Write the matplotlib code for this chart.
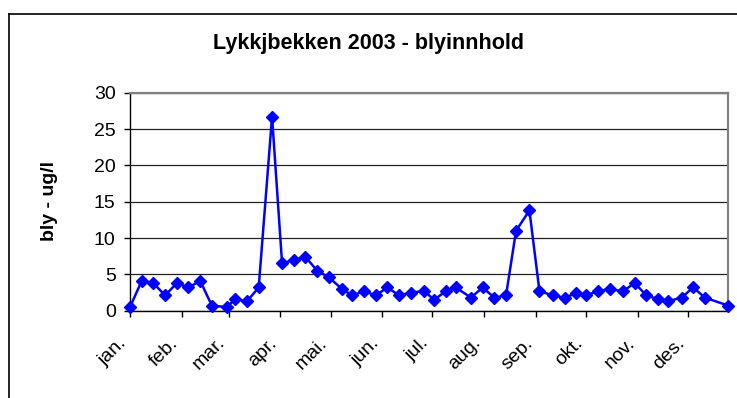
import matplotlib
matplotlib.use("Agg")
import matplotlib.pyplot as plt
import matplotlib.transforms as mtransforms
from matplotlib.lines import Line2D
import pandas as pd

plt.rcParams['font.family'] = ['Liberation Sans', 'DejaVu Sans']

# Weekly samples of lead content, 2003
dates = pd.to_datetime([
    "2003-01-01", "2003-01-08", "2003-01-15", "2003-01-22", "2003-01-29",
    "2003-02-05", "2003-02-12", "2003-02-19", "2003-02-28",
    "2003-03-05", "2003-03-12", "2003-03-19", "2003-03-27",
    "2003-04-02", "2003-04-09", "2003-04-16", "2003-04-23", "2003-04-30",
    "2003-05-08", "2003-05-14", "2003-05-21", "2003-05-28",
    "2003-06-04", "2003-06-11", "2003-06-18", "2003-06-26",
    "2003-07-02", "2003-07-09", "2003-07-15", "2003-07-24", "2003-07-31",
    "2003-08-07", "2003-08-14", "2003-08-20", "2003-08-28",
    "2003-09-03", "2003-09-11", "2003-09-18", "2003-09-25",
    "2003-10-01", "2003-10-08", "2003-10-15", "2003-10-23", "2003-10-30",
    "2003-11-06", "2003-11-13", "2003-11-19", "2003-11-27",
    "2003-12-04", "2003-12-11", "2003-12-25",
])
bly = [
    0.5, 4.1, 3.8, 2.1, 3.8,
    3.2, 4.1, 0.7, 0.5,
    1.6, 1.3, 3.2, 26.7,
    6.5, 7.0, 7.4, 5.5, 4.6,
    2.95, 2.1, 2.7, 2.1,
    3.2, 2.1, 2.5, 2.7,
    1.5, 2.7, 3.2, 1.8, 3.2,
    1.8, 2.1, 11.0, 13.8,
    2.7, 2.1, 1.8, 2.4,
    2.1, 2.7, 2.95, 2.7, 3.8,
    2.1, 1.6, 1.3, 1.8,
    3.2, 1.8, 0.7,
]
months = ["jan.", "feb.", "mar.", "apr.", "mai.", "jun.",
          "jul.", "aug.", "sep.", "okt.", "nov.", "des."]
month_starts = pd.date_range("2003-01-01", periods=12, freq="MS")

fig = plt.figure(figsize=(7.37, 3.98), dpi=100)
ax = fig.add_axes([0.1764, 0.2193, 0.8118, 0.5478])

# Chart frame (left and top edges visible)
fig.add_artist(Line2D([8.5 / 737, 8.5 / 737], [0, 0.9636], color='black', lw=1.2,
                      transform=fig.transFigure))
fig.add_artist(Line2D([8.5 / 737, 1], [0.9636, 0.9636], color='black', lw=1.2,
                      transform=fig.transFigure))

ax.plot(dates, bly, color='#0000ff', lw=1.8, marker='D', markersize=6,
        markeredgecolor='#0000ff', markerfacecolor='#0000ff', zorder=3, clip_on=False)

ax.set_xlim(dates[0], dates[-1])
ax.set_ylim(0, 30)
ax.set_yticks(range(0, 31, 5))
ax.yaxis.grid(True, color='#222222', lw=0.9)
ax.set_axisbelow(True)

ax.set_xticks(month_starts)
ax.set_xticklabels(months, rotation=45, ha='right', va='top')
offset = mtransforms.ScaledTranslation(-7 / 100, 0, fig.dpi_scale_trans)
for lbl in ax.get_xticklabels():
    lbl.set_transform(lbl.get_transform() + offset)

ax.tick_params(axis='x', direction='out', length=4, width=1, pad=13, labelsize=14)
ax.tick_params(axis='y', direction='out', length=4.3, width=1, pad=6, labelsize=14)

for side in ['top', 'right']:
    ax.spines[side].set_color('#808080')
    ax.spines[side].set_linewidth(1.6)
for side in ['left', 'bottom']:
    ax.spines[side].set_color('black')
    ax.spines[side].set_linewidth(1)

fig.text(0.5, 1 - 49 / 398, "Lykkjbekken 2003 - blyinnhold", ha='center', va='baseline',
         fontsize=15.5, fontweight='bold')
fig.text(49 / 737, 1 - 201 / 398, "bly - ug/l", rotation=90, ha='center', va='center',
         fontsize=14, fontweight='bold')

fig.savefig("out.png", dpi=100)
